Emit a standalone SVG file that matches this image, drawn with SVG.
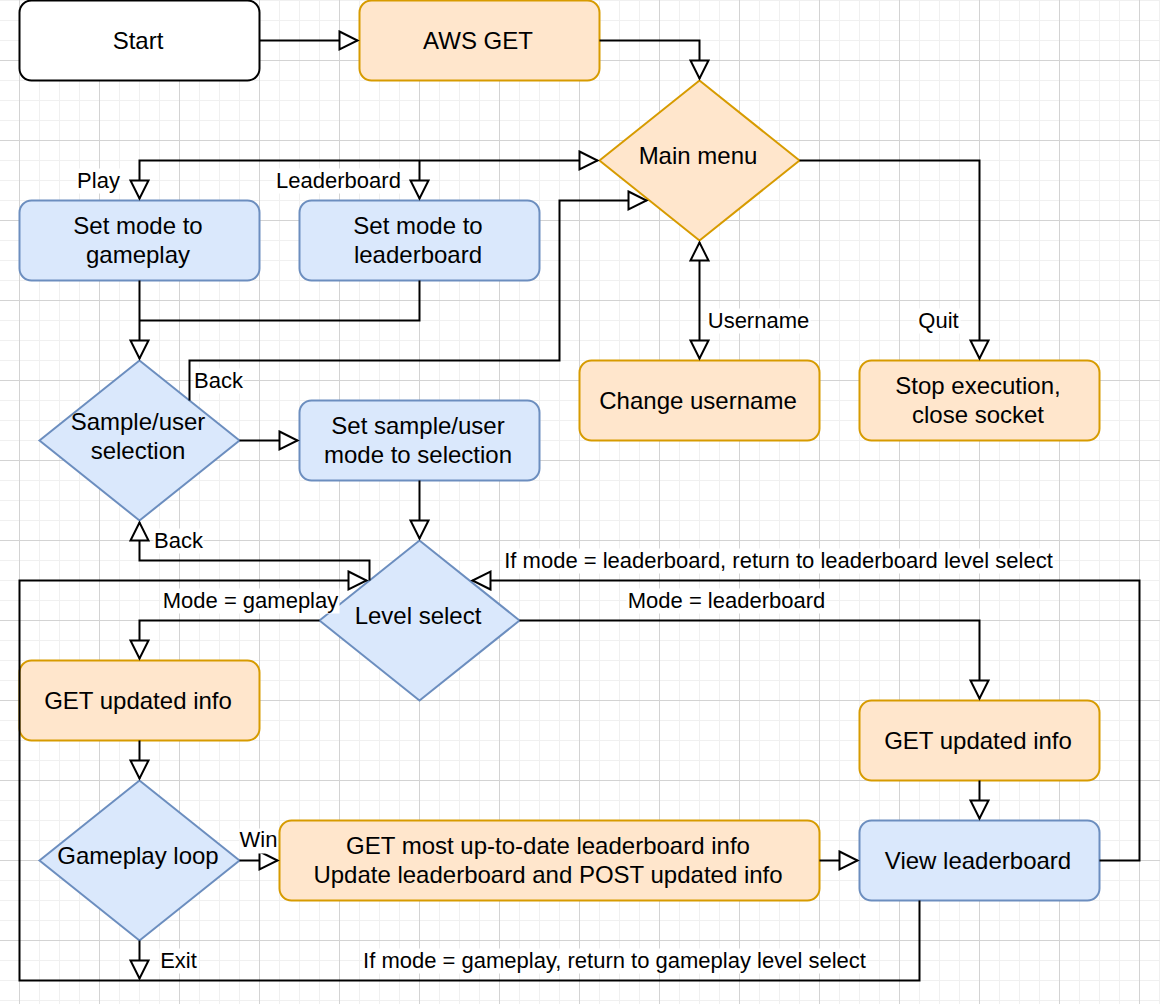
<svg xmlns="http://www.w3.org/2000/svg" width="1160" height="1004" viewBox="0 0 1160 1004">
<style>
.nt{font-family:"Liberation Sans",Arial,Helvetica,sans-serif;font-size:24px;fill:#000;text-anchor:middle;transform:translateX(-1.5px)}
.et{font-family:"Liberation Sans",Arial,Helvetica,sans-serif;font-size:22px;fill:#000;text-anchor:middle}
.lbg{fill:#fff}
.wht{fill:#fff;stroke:#000;stroke-width:2}
.org{fill:#ffe6cc;stroke:#d79b00;stroke-width:2}
.blu{fill:#dae8fc;stroke:#6c8ebf;stroke-width:2}
.cn{fill:none;stroke:#000;stroke-width:2;stroke-linejoin:miter}
.ea{marker-end:url(#arr)}
.ba{marker-start:url(#arr);marker-end:url(#arr)}
</style>
<defs>
<pattern id="gridp" x="19" y="60" width="80" height="80" patternUnits="userSpaceOnUse">
<rect x="0" y="0" width="80" height="80" fill="#fff"/>
<rect x="20" y="0" width="1" height="80" fill="#f0f0f0"/>
<rect x="40" y="0" width="1" height="80" fill="#f0f0f0"/>
<rect x="60" y="0" width="1" height="80" fill="#f0f0f0"/>
<rect x="0" y="20" width="80" height="1" fill="#f0f0f0"/>
<rect x="0" y="40" width="80" height="1" fill="#f0f0f0"/>
<rect x="0" y="60" width="80" height="1" fill="#f0f0f0"/>
<rect x="0" y="0" width="1" height="80" fill="#d3d3d3"/>
<rect x="0" y="0" width="80" height="1" fill="#d3d3d3"/>
</pattern>
<marker id="arr" viewBox="0 0 22 22" refX="20" refY="11" markerWidth="22" markerHeight="22" markerUnits="userSpaceOnUse" orient="auto-start-reverse" overflow="visible">
<path d="M2,2 L20,11 L2,20 Z" fill="#fff" stroke="#000" stroke-width="2"/>
</marker>
</defs>
<rect id="grid" x="0" y="0" width="1160" height="1004" fill="url(#gridp)"/>
<g transform="translate(-0.5,0.5)">
<g id="start"><rect class="wht" x="20" y="0" width="240" height="80" rx="12"/><text class="nt" x="140" y="48">Start</text></g>
<g id="aws-get"><rect class="org" x="360" y="0" width="240" height="80" rx="12"/><text class="nt" x="480" y="48">AWS GET</text></g>
<g id="main-menu"><path class="org" d="M700,80 L800,160 L700,240 L600,160 Z"/><text class="nt" x="700" y="163">Main menu</text></g>
<g id="set-gameplay"><rect class="blu" x="20" y="200" width="240" height="80" rx="12"/><text class="nt" x="140" y="233">Set mode to</text><text class="nt" x="140" y="262">gameplay</text></g>
<g id="set-leaderboard"><rect class="blu" x="300" y="200" width="240" height="80" rx="12"/><text class="nt" x="420" y="233">Set mode to</text><text class="nt" x="420" y="262">leaderboard</text></g>
<g id="sample-user"><path class="blu" d="M140,360 L240,440 L140,520 L40,440 Z"/><text class="nt" x="140" y="429">Sample/user</text><text class="nt" x="140" y="458">selection</text></g>
<g id="set-sample"><rect class="blu" x="300" y="400" width="240" height="80" rx="12"/><text class="nt" x="420" y="433">Set sample/user</text><text class="nt" x="420" y="462">mode to selection</text></g>
<g id="change-username"><rect class="org" x="580" y="360" width="240" height="80" rx="12"/><text class="nt" x="700" y="408">Change username</text></g>
<g id="stop"><rect class="org" x="860" y="360" width="240" height="80" rx="12"/><text class="nt" x="980" y="393">Stop execution,</text><text class="nt" x="980" y="422">close socket</text></g>
<g id="level-select"><path class="blu" d="M420,540 L520,620 L420,700 L320,620 Z"/><text class="nt" x="420" y="623">Level select</text></g>
<g id="get-left"><rect class="org" x="20" y="660" width="240" height="80" rx="12"/><text class="nt" x="140" y="708">GET updated info</text></g>
<g id="get-right"><rect class="org" x="860" y="700" width="240" height="80" rx="12"/><text class="nt" x="980" y="748">GET updated info</text></g>
<g id="gameplay-loop"><path class="blu" d="M140,780 L240,860 L140,940 L40,860 Z"/><text class="nt" x="140" y="863">Gameplay loop</text></g>
<g id="get-most"><rect class="org" x="280" y="820" width="540" height="80" rx="12"/><text class="nt" x="550" y="853">GET most up-to-date leaderboard info</text><text class="nt" x="550" y="882">Update leaderboard and POST updated info</text></g>
<g id="view-leaderboard"><rect class="blu" x="860" y="820" width="240" height="80" rx="12"/><text class="nt" x="980" y="868">View leaderboard</text></g>
<g id="connectors">
<path class="cn ea" d="M260,40 L358,40"/>
<path class="cn ea" d="M600,40 L700,40 L700,78"/>
<path class="cn ba" d="M140,198 L140,160 L598,160"/>
<path class="cn ea" d="M420,160 L420,198"/>
<path class="cn ea" d="M140,280 L140,358"/>
<path class="cn" d="M420,280 L420,320 L140,320"/>
<path class="cn ea" d="M240,440 L298,440"/>
<path class="cn ea" d="M190,400 L190,360 L560,360 L560,200 L647,200"/>
<path class="cn ea" d="M420,480 L420,538"/>
<path class="cn ea" d="M370,580 L370,560 L140,560 L140,522"/>
<path class="cn ea" d="M920,900 L920,980 L20,980 L20,580 L367,580"/>
<path class="cn ea" d="M1100,860 L1140,860 L1140,580 L473,580"/>
<path class="cn ea" d="M320,620 L140,620 L140,658"/>
<path class="cn ea" d="M520,620 L980,620 L980,698"/>
<path class="cn ea" d="M140,740 L140,778"/>
<path class="cn ea" d="M240,860 L278,860"/>
<path class="cn ea" d="M140,940 L140,978"/>
<path class="cn ea" d="M820,860 L858,860"/>
<path class="cn ea" d="M980,780 L980,818"/>
<path class="cn ba" d="M700,242 L700,358"/>
<path class="cn ea" d="M800,160 L980,160 L980,358"/>
</g>
<g id="edge-labels">
<rect class="lbg" x="77" y="168" width="44" height="25"/><text class="et" x="99" y="187">Play</text>
<rect class="lbg" x="276" y="168" width="126" height="25"/><text class="et" x="339" y="187">Leaderboard</text>
<rect class="lbg" x="194" y="368" width="50" height="25"/><text class="et" x="219" y="387">Back</text>
<rect class="lbg" x="154" y="528" width="50" height="25"/><text class="et" x="179" y="547">Back</text>
<rect class="lbg" x="707" y="308" width="104" height="25"/><text class="et" x="759" y="327">Username</text>
<rect class="lbg" x="917" y="308" width="44" height="25"/><text class="et" x="939" y="327">Quit</text>
<rect class="lbg" x="503" y="548" width="552" height="25"/><text class="et" x="779" y="567">If mode = leaderboard, return to leaderboard level select</text>
<rect class="lbg" x="162" y="588" width="178" height="25"/><text class="et" x="251" y="607">Mode = gameplay</text>
<rect class="lbg" x="627" y="588" width="200" height="25"/><text class="et" x="727" y="607">Mode = leaderboard</text>
<rect class="lbg" x="240" y="828" width="38" height="25"/><text class="et" x="259" y="846">Win</text>
<rect class="lbg" x="160" y="948" width="38" height="25"/><text class="et" x="179" y="967">Exit</text>
<rect class="lbg" x="363" y="948" width="505" height="25"/><text class="et" x="615" y="967">If mode = gameplay, return to gameplay level select</text>
</g>
</g>
</svg>
